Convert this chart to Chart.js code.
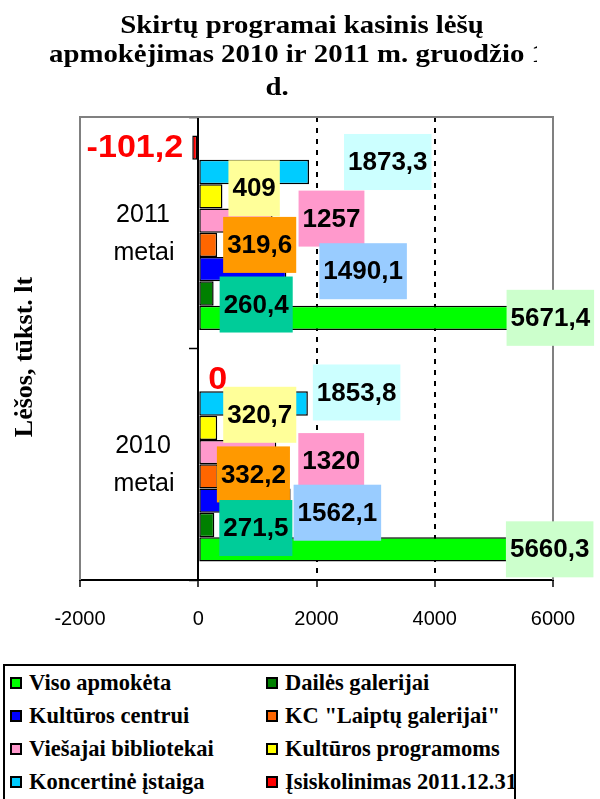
<!DOCTYPE html>
<html lang="lt">
<head>
<meta charset="utf-8">
<title>Skirtų programai kasinis lėšų apmokėjimas</title>
<script src="https://cdn.jsdelivr.net/npm/chart.js@4.4.1/dist/chart.umd.min.js"></script>
<style>
    html, body { margin: 0; padding: 0; background: #fff; }
    #wrap { position: relative; width: 600px; height: 799px; overflow: hidden; }
    #legend {
        position: absolute; left: 3px; top: 664px; width: 513px; height: 150px;
        border: 2px solid #000; box-sizing: border-box; overflow: hidden; background: #fff;
    }
    .item {
        position: absolute; height: 33px; display: flex; align-items: center; white-space: nowrap;
        font: bold 22.5px 'Liberation Serif', 'Times New Roman', serif; color: #000;
    }
    .item i { display: inline-block; width: 8px; height: 8px; border: 2px solid #000; margin-right: 7px; }
</style>
</head>
<body>
<div id="wrap">
    <canvas id="chart" width="600" height="799"></canvas>
    <div id="legend"></div>
</div>
<script>
// categories, top to bottom
const categories = ['2011 metai', '2010 metai'];
const seriesNames = ['Viso apmokėta', 'Dailės galerijai', 'Kultūros centrui', 'KC "Laiptų galerijai"',
    'Viešajai bibliotekai', 'Kultūros programoms', 'Koncertinė įstaiga', 'Įsiskolinimas 2011.12.31'];
// values: [2011, 2010], tūkst. lt
const visoApmoketa = [5671.4, 5660.3];
const dailesGalerijai = [260.4, 271.5];
const kulturosCentrui = [1490.1, 1562.1];
const kcLaiptuGalerijai = [319.6, 332.2];
const viesajaiBibliotekai = [1257, 1320];
const kulturosProgramoms = [409, 320.7];
const koncertineIstaiga = [1873.3, 1853.8];
const isiskolinimas = [-101.2, 0];
const xTicks = [-2000, 0, 2000, 4000, 6000];

const seriesValues = [visoApmoketa, dailesGalerijai, kulturosCentrui, kcLaiptuGalerijai,
    viesajaiBibliotekai, kulturosProgramoms, koncertineIstaiga, isiskolinimas];

// styles
const barColors = ['#00FF00', '#008000', '#0000FF', '#FF6600', '#FF99CC', '#FFFF00', '#00CCFF', '#FF0000'];
const boxColors = ['#CCFFCC', '#00CC99', '#99CCFF', '#FF9900', '#FF99CC', '#FFFF99', '#CCFFFF', null];
// label box placement: [dx from bar end, dy from bar centre] per category
const labelOffsets = [
    [[-27, 0], [-27, 0]],
    [[6, 11], [5, 3]],
    [[33, 2], [3, 12]],
    [[6, 0], [-1, -2]],
    [[26, -2], [22, 9]],
    [[6, -8], [6, -13]],
    [[35, -10], [5, -11]],
    [[-9, 1], [10, 1]]
];

const fmt = v => String(v).replace('.', ',');
const N = seriesValues.length;

// Excel draws the first series at the bottom of each group
const datasets = seriesValues.map((vals, i) => ({
    label: seriesNames[i],
    data: vals,
    backgroundColor: barColors[i],
    borderColor: '#000',
    borderWidth: 1.5,
    borderSkipped: false
})).reverse();

// text drawn a little wider than the font, as in the original picture
function wideText(ctx, txt, x, y, sx) {
    ctx.save();
    ctx.translate(x, y);
    ctx.scale(sx, 1);
    ctx.fillText(txt, 0, 0);
    ctx.restore();
}

const annotate = {
    id: 'annotate',
    beforeDatasetsDraw(chart) {
        const {ctx, chartArea: a} = chart;
        ctx.save();
        ctx.strokeStyle = '#808080';
        ctx.lineWidth = 2;
        ctx.beginPath();
        ctx.moveTo(a.left, a.bottom);
        ctx.lineTo(a.left, a.top);
        ctx.lineTo(a.right, a.top);
        ctx.lineTo(a.right, a.bottom);
        ctx.stroke();
        ctx.restore();
    },
    afterDraw(chart) {
        const {ctx, scales: {y}} = chart;
        ctx.save();

        // value labels
        chart.data.datasets.forEach((ds, d) => {
            const s = N - 1 - d;
            const meta = chart.getDatasetMeta(d);
            meta.data.forEach((bar, j) => {
                const v = ds.data[j];
                const [dx, dy] = labelOffsets[s][j];
                const txt = fmt(v);
                const cy = bar.y + dy;
                if (!boxColors[s]) {
                    ctx.font = 'bold 31px "Liberation Sans", Arial, sans-serif';
                    ctx.fillStyle = '#FF0000';
                    ctx.textBaseline = 'middle';
                    ctx.textAlign = v < 0 ? 'right' : 'left';
                    wideText(ctx, txt, bar.x + dx, cy, 1.1);
                    return;
                }
                ctx.font = 'bold 26px "Liberation Sans", Arial, sans-serif';
                const w = ctx.measureText(txt).width + 8;
                const h = 56;
                const left = bar.x + dx;
                ctx.fillStyle = boxColors[s];
                ctx.fillRect(left, cy - h / 2, w, h);
                ctx.fillStyle = '#000';
                ctx.textAlign = 'center';
                ctx.textBaseline = 'middle';
                ctx.fillText(txt, left + w / 2, cy + 1);
            });
        });

        // category labels
        ctx.font = '25px "Liberation Sans", Arial, sans-serif';
        ctx.fillStyle = '#000';
        ctx.textAlign = 'center';
        ctx.textBaseline = 'alphabetic';
        categories.forEach((c, i) => {
            const yc = y.getPixelForValue(i);
            const parts = c.split(' ');
            ctx.fillText(parts[0], 143, yc - 11);
            ctx.fillText(parts[1], 144, yc + 27);
        });

        // axis title
        ctx.save();
        ctx.font = 'bold 26px "Liberation Serif", "Times New Roman", serif';
        ctx.textBaseline = 'middle';
        ctx.translate(25, 357);
        ctx.rotate(-Math.PI / 2);
        ctx.fillText('Lėšos, tūkst. lt', 0, 0);
        ctx.restore();

        // chart title (second line is cut off by the title box)
        ctx.font = 'bold 26px "Liberation Serif", "Times New Roman", serif';
        ctx.textBaseline = 'alphabetic';
        ctx.textAlign = 'center';
        wideText(ctx, 'Skirtų programai kasinis lėšų', 302, 33, 1.108);
        wideText(ctx, 'd.', 277, 95, 1.108);
        ctx.save();
        ctx.beginPath();
        ctx.rect(0, 36, 537, 40);
        ctx.clip();
        ctx.textAlign = 'left';
        wideText(ctx, 'apmokėjimas 2010 ir 2011 m. gruodžio 1', 49, 62, 1.108);
        ctx.restore();

        ctx.restore();
    }
};

Chart.defaults.font.family = '"Liberation Sans", Arial, sans-serif';
Chart.defaults.color = '#000';

new Chart(document.getElementById('chart'), {
    type: 'bar',
    data: { labels: categories, datasets: datasets },
    plugins: [annotate],
    options: {
        indexAxis: 'y',
        responsive: false,
        animation: false,
        layout: { padding: { top: 117, left: 80, right: 47, bottom: 148 } },
        datasets: { bar: { categoryPercentage: 0.84, barPercentage: 1 } },
        plugins: {
            legend: { display: false },
            title: { display: false },
            tooltip: { enabled: false }
        },
        scales: {
            x: {
                type: 'linear',
                min: -2000,
                max: 6000,
                afterBuildTicks: s => { s.ticks = xTicks.map(v => ({ value: v })); },
                ticks: { font: { size: 20 }, padding: 20, callback: v => String(v) },
                grid: {
                    color: c => (c.tick && (c.tick.value === 2000 || c.tick.value === 4000)) ? '#000' : 'rgba(0,0,0,0)',
                    lineWidth: 2,
                    drawTicks: true,
                    tickColor: '#000',
                    tickLength: 7,
                    tickWidth: 1.5
                },
                border: { color: '#000', width: 2, dash: [5, 6] }
            },
            y: {
                type: 'category',
                position: { x: 0 },
                ticks: { display: false },
                grid: {
                    offset: true,
                    drawOnChartArea: false,
                    drawTicks: true,
                    tickLength: 8,
                    tickColor: '#000',
                    tickWidth: 1.5
                },
                border: { color: '#000', width: 2 }
            }
        }
    }
});

// legend, two columns like the original
const legend = document.getElementById('legend');
seriesNames.forEach((name, i) => {
    const item = document.createElement('div');
    item.className = 'item';
    item.style.left = (5 + (i % 2) * 256) + 'px';
    item.style.top = (Math.floor(i / 2) * 33) + 'px';
    const mark = document.createElement('i');
    mark.style.background = barColors[i];
    item.appendChild(mark);
    item.appendChild(document.createTextNode(name));
    legend.appendChild(item);
});
</script>
</body>
</html>
